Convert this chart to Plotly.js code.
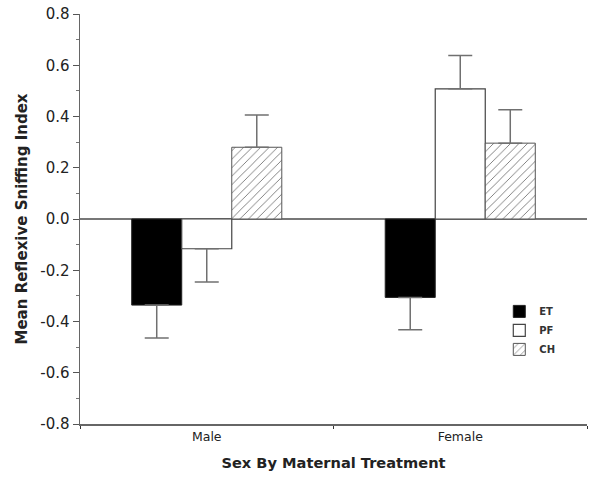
<!DOCTYPE html>
<html>
<head>
<meta charset="utf-8">
<script src="https://cdn.plot.ly/plotly-3.0.1.min.js"></script>
<style>html,body{margin:0;padding:0;background:#fff;}#chart{width:600px;height:479px;}</style>
</head>
<body>
<div id="chart"></div>
<script>
var categories = ["Male", "Female"];
var seriesNames = ["ET", "PF", "CH"];
var etValues = [-0.336, -0.306];
var pfValues = [-0.116, 0.508];
var chValues = [0.280, 0.296];
var etErrors = [0.128, 0.126];
var pfErrors = [0.130, 0.130];
var chErrors = [0.126, 0.130];
var yTickValues = [-0.8, -0.6, -0.4, -0.2, 0.0, 0.2, 0.4, 0.6, 0.8];
var yTickLabels = ["-0.8", "-0.6", "-0.4", "-0.2", "0.0", "0.2", "0.4", "0.6", "0.8"];

function errSpec(vals, errs) {
  return {
    type: 'data', symmetric: false,
    array: vals.map(function(v, i){ return v >= 0 ? errs[i] : 0; }),
    arrayminus: vals.map(function(v, i){ return v < 0 ? errs[i] : 0; }),
    color: '#707070', thickness: 1.5, width: 12
  };
}

var traces = [
  {type: 'bar', name: seriesNames[0], x: categories, y: etValues,
   marker: {color: '#000', line: {color: '#222', width: 1}},
   error_y: errSpec(etValues, etErrors)},
  {type: 'bar', name: seriesNames[1], x: categories, y: pfValues,
   marker: {color: '#fff', line: {color: '#444', width: 1.2}},
   error_y: errSpec(pfValues, pfErrors)},
  {type: 'bar', name: seriesNames[2], x: categories, y: chValues,
   marker: {color: '#fff', line: {color: '#555', width: 1},
            pattern: {shape: '/', fgcolor: '#777', bgcolor: '#fff', size: 6, solidity: 0.15}},
   error_y: errSpec(chValues, chErrors)}
];

var layout = {
  width: 600, height: 479,
  margin: {l: 80, r: 13, t: 14, b: 55},
  paper_bgcolor: '#fff', plot_bgcolor: '#fff',
  barmode: 'group', bargap: 0.408, bargroupgap: 0,
  font: {family: 'DejaVu Sans, Verdana, sans-serif', color: '#222'},
  showlegend: true,
  legend: {x: 0.827, y: 0.31, xanchor: 'left', yanchor: 'top',
           font: {size: 10, color: '#333', weight: 'bold'}, tracegroupgap: 0,
           itemwidth: 30, bgcolor: 'rgba(0,0,0,0)'},
  xaxis: {
    type: 'category', showline: true, linecolor: '#666', linewidth: 1.5,
    ticks: 'outside', tickson: 'boundaries', ticklen: 3, tickcolor: '#333',
    showgrid: false, zeroline: false,
    tickfont: {size: 12.5, color: '#222'},
    title: {text: '<b>Sex By Maternal Treatment</b>', font: {size: 14.6, color: '#222'}, standoff: 15}
  },
  yaxis: {
    range: [-0.8, 0.8], tickmode: 'array', tickvals: yTickValues, ticktext: yTickLabels,
    showline: true, linecolor: '#666', linewidth: 1.5,
    ticks: 'outside', ticklen: 6, tickcolor: '#555',
    minor: {tickmode: 'linear', tick0: 0, dtick: 0.1, ticks: 'outside', ticklen: 3, tickcolor: '#777'},
    showgrid: false, zeroline: true, zerolinecolor: '#777', zerolinewidth: 1.5,
    tickfont: {size: 15, color: '#222'},
    title: {text: '<b>Mean Reflexive Sniffing Index</b>', font: {size: 15, color: '#222'}, standoff: 9}
  }
};

Plotly.newPlot('chart', traces, layout, {displayModeBar: false, staticPlot: true});
</script>
</body>
</html>
